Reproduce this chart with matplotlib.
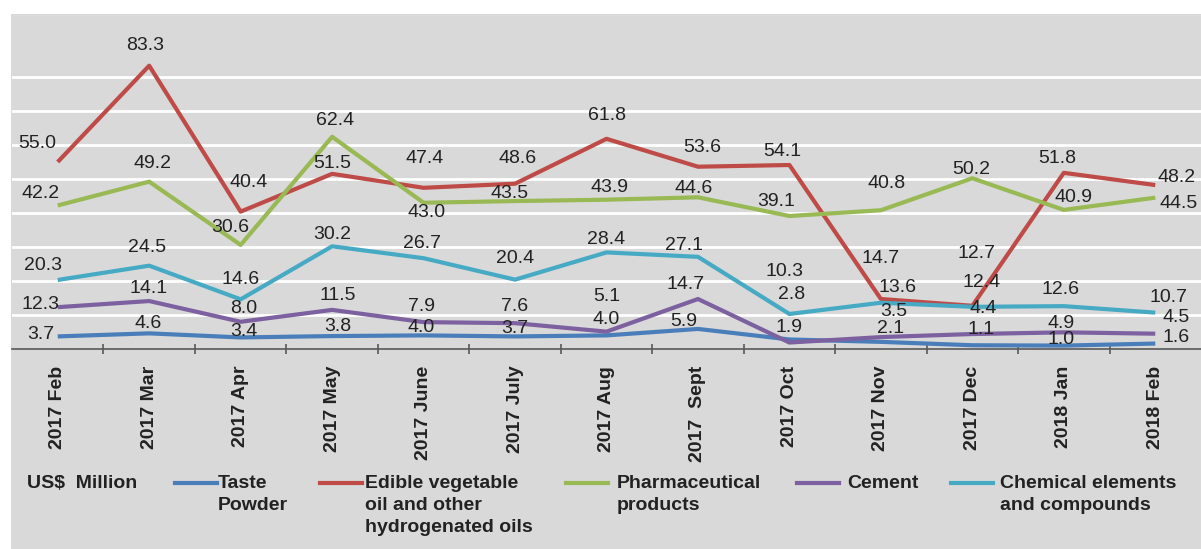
import matplotlib
matplotlib.use('Agg')
import matplotlib.pyplot as plt
from matplotlib.lines import Line2D
from matplotlib.patches import Rectangle
from matplotlib.ticker import FixedLocator

plt.rcParams['font.family'] = ['Liberation Sans', 'DejaVu Sans']

months = ["2017 Feb", "2017 Mar", "2017 Apr", "2017 May", "2017 June", "2017 July",
          "2017 Aug", "2017  Sept", "2017 Oct", "2017 Nov", "2017 Dec", "2018 Jan", "2018 Feb"]

taste_powder = [3.7, 4.6, 3.4, 3.8, 4.0, 3.7, 4.0, 5.9, 2.8, 2.1, 1.1, 1.0, 1.6]
edible_oil = [55.0, 83.3, 40.4, 51.5, 47.4, 48.6, 61.8, 53.6, 54.1, 14.7, 12.7, 51.8, 48.2]
pharmaceutical = [42.2, 49.2, 30.6, 62.4, 43.0, 43.5, 43.9, 44.6, 39.1, 40.8, 50.2, 40.9, 44.5]
cement = [12.3, 14.1, 8.0, 11.5, 7.9, 7.6, 5.1, 14.7, 1.9, 3.5, 4.4, 4.9, 4.5]
chemical = [20.3, 24.5, 14.6, 30.2, 26.7, 20.4, 28.4, 27.1, 10.3, 13.6, 12.4, 12.6, 10.7]

series_names = ["Taste\nPowder", "Edible vegetable\noil and other\nhydrogenated oils",
                "Pharmaceutical\nproducts", "Cement", "Chemical elements\nand compounds"]
unit_label = "US$  Million"

# styling (label offsets in pixels: dx right, dy down)
colors = ['#4a7ebb', '#be4b48', '#98b954', '#7d60a0', '#46aac5']
offsets = [
    [(-17, -2), (-1, -10), (3, -6), (6, -10), (-2, -8), (0, -8), (0, -16), (-14, -7), (2, -45), (10, -13), (9, -16), (-3, -6), (21, -6)],
    [(-20, -18), (-4, -20), (8, -29), (0, -10), (1, -29), (3, -25), (0, -23), (4, -19), (-7, -14), (0, -41), (4, -52), (-7, -14), (21, -8)],
    [(-17, -12), (3, -18), (-10, -17), (3, -16), (3, 10), (-5, -8), (3, -12), (-4, -9), (-13, -15), (6, -27), (-1, -9), (10, -12), (23, 6)],
    [(-17, -3), (-1, -13), (3, -13), (6, -14), (-2, -16), (0, -17), (0, -35), (-12, -15), (0, -15), (13, -26), (11, -26), (-3, -9), (21, -16)],
    [(-15, -14), (-2, -18), (0, -20), (0, -12), (-2, -15), (0, -21), (0, -13), (-14, -11), (-5, -42), (17, -15), (9, -24), (-3, -17), (13, -15)],
]
bg = '#d9d9d9'

W, H = 1201, 549
fig = plt.figure(figsize=(W / 100, H / 100), dpi=100, facecolor='white')
fig.patches.append(Rectangle((11 / W, 0), 1 - 11 / W, 1 - 14 / H, transform=fig.transFigure,
                             facecolor=bg, edgecolor='none', zorder=-5))

ax = fig.add_axes([12 / W, 1 - 349 / H, 1189 / W, (349 - 14) / H])
ax.set_facecolor(bg)

x = list(range(len(months)))
all_series = [taste_powder, edible_oil, pharmaceutical, cement, chemical]
for vals, c in zip(all_series, colors):
    ax.plot(x, vals, color=c, lw=3.0, solid_capstyle='butt', zorder=3)

for vals, offs in zip(all_series, offsets):
    for xi, v, (dx, dy) in zip(x, vals, offs):
        ax.annotate(f"{v:.1f}", (xi, v), xytext=(dx, -dy), textcoords='offset pixels',
                    ha='center', va='center', fontsize=14, color='#222222', zorder=5)

ax.set_xlim(-0.5, len(months) - 0.5)
ax.set_ylim(0, 98.5)
ax.set_yticks([10, 20, 30, 40, 50, 60, 70, 80])
ax.yaxis.grid(True, color='white', lw=2)
ax.set_axisbelow(True)
ax.tick_params(axis='y', left=False, labelleft=False)
for s in ['top', 'right', 'left']:
    ax.spines[s].set_visible(False)
ax.spines['bottom'].set_color('#595959')
ax.spines['bottom'].set_linewidth(1.2)

ax.set_xticks(x)
ax.set_xticklabels(months, rotation=90, fontsize=14, fontweight='bold', color='#222222')
ax.tick_params(axis='x', which='major', length=0, pad=12)
ax.xaxis.set_minor_locator(FixedLocator([i + 0.5 for i in range(len(months) - 1)]))
ax.tick_params(axis='x', which='minor', length=7, width=1.2, color='#595959', direction='inout')

# legend row
ly = 1 - 483 / H
fig.text(27 / W, ly, unit_label, fontsize=14, fontweight='bold', color='#222222', va='center', ha='left')
handle_x = [175, 320, 566, 797, 951]
text_x = [218, 365, 617, 847, 1000]
for hx, tx, c, name in zip(handle_x, text_x, colors, series_names):
    fig.add_artist(Line2D([hx / W, (hx + 42) / W], [ly, ly], transform=fig.transFigure,
                          color=c, lw=3.0))
    fig.text(tx / W, 1 - 475 / H, name, fontsize=14, fontweight='bold', color='#222222',
             va='top', ha='left', linespacing=1.38)

fig.savefig('out.png', dpi=100, facecolor='white')
